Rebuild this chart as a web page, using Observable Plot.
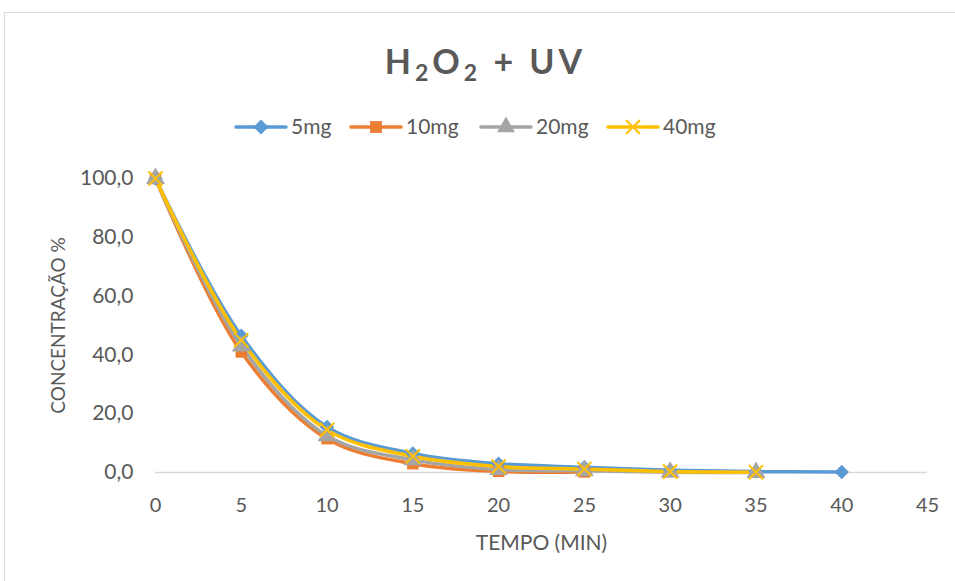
<!DOCTYPE html>
<html>
<head>
<meta charset="utf-8">
<script src="https://cdn.jsdelivr.net/npm/d3@7"></script>
<script src="https://cdn.jsdelivr.net/npm/@observablehq/plot@0.6"></script>
<style>
  html, body { margin: 0; padding: 0; background: #fff; }
  #wrap { position: relative; width: 955px; height: 581px; overflow: hidden; font-family: Lato, "Open Sans", sans-serif; }
  #frame { position: absolute; left: 4px; top: 12px; width: 1000px; height: 1000px; border-left: 1px solid #d9d9d9; border-top: 1px solid #d9d9d9; }
  #title { position: absolute; left: 8px; width: 955px; top: 40px; text-align: center; font-size: 34px; font-weight: bold; color: #595959; letter-spacing: 4px; }
  #title sub { font-size: 23px; vertical-align: -7px; line-height: 0; }
  #chart { position: absolute; left: 0; top: 0; }
  #legend { position: absolute; left: 0; top: 109px; }
</style>
</head>
<body>
<div id="wrap">
  <div id="frame"></div>
  <div id="chart"></div>
  <div id="title">H<sub>2</sub>O<sub>2</sub> + UV</div>
  <svg id="legend" width="955" height="36"></svg>
</div>
<script>
const times = [0, 5, 10, 15, 20, 25, 30, 35, 40];
const seriesNames = ["5mg", "10mg", "20mg", "40mg"];
const s5mg  = [100, 46.5, 15.5, 6.5, 3.0, 1.8, 0.8, 0.3, 0.2];
const s10mg = [100, 41.0, 11.5, 3.0, 0.4, 0.2];
const s20mg = [100, 43.0, 12.5, 4.3, 1.0, 0.6, 0.1, 0.0];
const s40mg = [100, 45.0, 14.5, 5.5, 2.0, 1.2, 0.3, 0.1];
const colors = ["#5b9bd5", "#ed7d31", "#a5a5a5", "#ffc000"];
const symbols = ["diamond2", "square", "triangle", "times"];
const xTicks = [0, 5, 10, 15, 20, 25, 30, 35, 40, 45];
const yTicks = [0, 20, 40, 60, 80, 100];

const allSeries = [s5mg, s10mg, s20mg, s40mg];
const data = [];
allSeries.forEach((vals, i) => vals.forEach((v, j) => data.push({t: times[j], v, s: seriesNames[i], i})));

const fmt = d => d.toFixed(1).replace(".", ",");
const font = "Lato, 'Open Sans', sans-serif";

const marks = [
  Plot.ruleY([0], {stroke: "#d9d9d9", strokeWidth: 1.5, x1: 0, x2: 45}),
  Plot.axisX({ticks: xTicks, tickSize: 0, tickPadding: 25, fontSize: 20, fill: "#595959", label: null}),
  Plot.text(["TEMPO (MIN)"], {frameAnchor: "bottom", lineAnchor: "middle", dy: 71, fontSize: 21, fill: "#595959"}),
  Plot.axisY({ticks: yTicks, tickSize: 0, tickPadding: 22, fontSize: 21, fill: "#595959", tickFormat: fmt, label: null}),
  Plot.text(["CONCENTRAÇÃO %"], {frameAnchor: "left", dx: -97, rotate: -90, textAnchor: "middle", fontSize: 19, fill: "#595959"})
];
seriesNames.forEach((name, i) => {
  marks.push(Plot.line(data.filter(d => d.i === i), {x: "t", y: "v", stroke: colors[i], strokeWidth: 3.5, curve: "catmull-rom"}));
});
seriesNames.forEach((name, i) => {
  const sub = data.filter(d => d.i === i);
  if (symbols[i] === "times") {
    marks.push(Plot.dot(sub, {x: "t", y: "v", symbol: "times", r: 6.5, stroke: colors[i], strokeWidth: 2, fill: "none"}));
  } else {
    marks.push(Plot.dot(sub, {x: "t", y: "v", symbol: symbols[i], r: symbols[i] === "triangle" ? 7 : 6.5, fill: colors[i], stroke: "none"}));
  }
});

const chart = Plot.plot({
  width: 955,
  height: 581,
  marginLeft: 155,
  marginRight: 28,
  marginTop: 178,
  marginBottom: 109,
  style: {fontFamily: font, background: "transparent", overflow: "visible", fontSize: "20px"},
  x: {domain: [0, 45]},
  y: {domain: [0, 100]},
  marks
});
document.getElementById("chart").appendChild(chart);

// legend
const leg = d3.select("#legend");
const legX = [236, 351, 481, 608];
const sym = {diamond2: d3.symbolDiamond2, square: d3.symbolSquare, triangle: d3.symbolTriangle, times: d3.symbolTimes};
seriesNames.forEach((name, i) => {
  const g = leg.append("g").attr("transform", `translate(${legX[i]},18)`);
  g.append("line").attr("x1", 0).attr("x2", 50).attr("stroke", colors[i]).attr("stroke-width", 3.5).attr("stroke-linecap", "round");
  const s = symbols[i];
  const area = s === "times" ? 130 : 140;
  const p = g.append("path").attr("transform", "translate(25,0)").attr("d", d3.symbol(sym[s], area)());
  if (s === "times") p.attr("fill", "none").attr("stroke", colors[i]).attr("stroke-width", 2);
  else p.attr("fill", colors[i]);
  g.append("text").attr("x", 55).attr("y", 0).attr("dy", "0.35em").attr("font-family", font).attr("font-size", 21).attr("fill", "#595959").text(name);
});
</script>
</body>
</html>
